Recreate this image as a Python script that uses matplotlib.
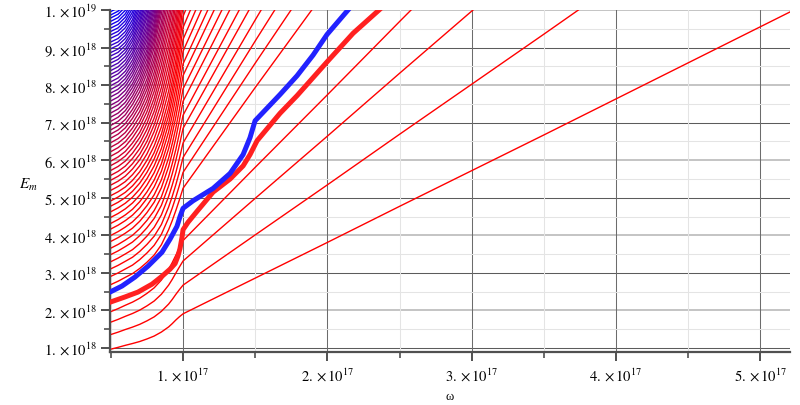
import numpy as np
import matplotlib
matplotlib.use('Agg')
import matplotlib.pyplot as plt
from matplotlib.ticker import MultipleLocator, FuncFormatter

plt.rcParams['mathtext.fontset'] = 'stix'
plt.rcParams['font.family'] = ['Liberation Serif', 'DejaVu Serif']

# omega in units of 1e17, E_m in units of 1e18
# contour shape E/E0 along omega, for contours that start at E0 on the left edge
W_LEFT = [0.5, 0.55, 0.6, 0.65, 0.7, 0.75, 0.8, 0.85, 0.9, 0.925, 0.95, 0.975, 1.0]
SHAPE_E0 = [1, 3, 5, 7, 9]
SHAPE_TABLE = [
    [1.0, 1.05, 1.105, 1.155, 1.21, 1.28, 1.36, 1.47, 1.61, 1.70, 1.80, 1.89, 1.97],
    [1.0, 1.03, 1.065, 1.10, 1.15, 1.21, 1.28, 1.38, 1.53, 1.62, 1.72, 1.83, 1.95],
    [1.0, 1.02, 1.045, 1.08, 1.125, 1.185, 1.26, 1.36, 1.50, 1.60, 1.71, 1.85, 2.0],
    [1.0, 1.015, 1.04, 1.08, 1.13, 1.20, 1.30, 1.43, 1.58, 1.66, 1.76, 1.88, 2.0],
    [1.0, 1.01, 1.03, 1.065, 1.12, 1.19, 1.27, 1.37, 1.50, 1.60, 1.71, 1.85, 2.0],
]
W_RIGHT = [1.5, 2.0, 2.5, 3.0, 3.5, 4.0, 4.5, 5.0, 5.5]
SHAPE_RIGHT = [2.95, 3.93, 4.92, 5.9, 6.88, 7.87, 8.86, 9.85, 10.84]

# E_m where each thin contour meets the left edge (2.22 and 2.49 are the thick ones)
LEVELS = [0.97, 1.36, 1.69, 1.97, 2.69, 2.91, 3.11, 3.30, 3.49, 3.66,
          3.84, 4.00, 4.17, 4.32, 4.48, 4.63, 4.78, 4.92, 5.06, 5.20, 5.34, 5.47,
          5.60, 5.73, 5.86, 5.98, 6.11, 6.23, 6.35, 6.47, 6.59, 6.70, 6.81, 6.93,
          7.04, 7.15, 7.26, 7.37, 7.47, 7.58, 7.69, 7.79, 7.89, 7.99, 8.09, 8.20,
          8.29, 8.39, 8.49, 8.59, 8.68, 8.78, 8.87, 8.97, 9.06, 9.15, 9.25, 9.34,
          9.43, 9.52, 9.61, 9.70, 9.79, 9.87, 9.96]
# red -> blue mix of the contour colours
COLOR_E = [4.5, 5, 6, 7, 8, 9, 10]
COLOR_BLUE = [0, 0.03, 0.18, 0.38, 0.6, 0.8, 1.0]

BLUE_W = [0.494, 0.577, 0.667, 0.757, 0.854, 0.91, 0.958, 0.979, 1.0, 1.069, 1.208,
          1.326, 1.416, 1.464, 1.499, 1.672, 1.79, 1.901, 1.998, 2.143]
BLUE_E = [2.49, 2.65, 2.89, 3.18, 3.55, 3.90, 4.24, 4.50, 4.72, 4.92, 5.25,
          5.65, 6.15, 6.60, 7.05, 7.75, 8.25, 8.80, 9.35, 10.0]
RED_W = [0.494, 0.598, 0.688, 0.785, 0.854, 0.91, 0.945, 0.965, 0.979, 0.993, 1.0,
         1.035, 1.097, 1.208, 1.326, 1.416, 1.464, 1.513, 1.672, 1.79, 1.901,
         1.998, 2.178, 2.358]
RED_E = [2.22, 2.36, 2.49, 2.70, 2.91, 3.10, 3.25, 3.45, 3.65, 3.95, 4.15,
         4.35, 4.64, 5.15, 5.50, 5.85, 6.15, 6.52, 7.25, 7.72, 8.20,
         8.62, 9.38, 10.0]

fig = plt.figure(figsize=(8, 4.06), dpi=100)
ax = fig.add_axes([0.1375, 0.1305, 0.85, 0.8424])

table = np.array(SHAPE_TABLE)
w_all = np.array(W_LEFT + W_RIGHT) * 1e17
for e0 in LEVELS:
    s_left = [np.interp(e0, SHAPE_E0, table[:, j]) for j in range(len(W_LEFT))]
    s = np.concatenate([s_left, SHAPE_RIGHT])
    f = np.interp(e0, COLOR_E, COLOR_BLUE)
    ax.plot(w_all, e0 * s * 1e18, color=(1 - f, 0, f), lw=1.0, zorder=2)

ax.plot(np.array(RED_W) * 1e17, np.array(RED_E) * 1e18, color='#ff2020', lw=3.6,
        solid_joinstyle='round', zorder=3)
ax.plot(np.array(BLUE_W) * 1e17, np.array(BLUE_E) * 1e18, color='#2222ff', lw=3.6,
        solid_joinstyle='round', zorder=3)

ax.set_xlim(0.494e17, 5.205e17)
ax.set_ylim(0.894e18, 1.0e19)

def sci(v, pos):
    if v <= 0:
        return ''
    e = int(np.floor(np.log10(v) + 1e-9))
    m = int(round(v / 10 ** e))
    return r'$%d.\times 10^{%d}$' % (m, e)

ax.xaxis.set_major_locator(MultipleLocator(1e17))
ax.xaxis.set_minor_locator(MultipleLocator(0.5e17))
ax.yaxis.set_major_locator(MultipleLocator(1e18))
ax.yaxis.set_minor_locator(MultipleLocator(0.5e18))
ax.xaxis.set_major_formatter(FuncFormatter(sci))
ax.yaxis.set_major_formatter(FuncFormatter(sci))

# grid: light minor lines, darker majors (every other horizontal one drawn lighter and wider)
ax.grid(which='minor', color='#e4e4e4', lw=0.75)
ax.xaxis.grid(True, which='major', color='#6c6c6c', lw=0.75)
for k in range(1, 11):
    if k % 2:
        ax.axhline(k * 1e18, color='#5c5c5c', lw=0.75, zorder=0.5)
    else:
        ax.axhline(k * 1e18, color='#c4c4c4', lw=1.4, zorder=0.5)
ax.set_axisbelow(True)

for side in ['top', 'right']:
    ax.spines[side].set_visible(False)
for side in ['left', 'bottom']:
    ax.spines[side].set_color('#505050')
    ax.spines[side].set_linewidth(1.6)
ax.tick_params(which='major', length=6.5, width=1.4, color='#505050', labelsize=10.5, pad=3)
ax.tick_params(axis='x', which='major', pad=4)
ax.tick_params(which='minor', length=4, width=1.2, color='#505050')

fig.text(450 / 800, 1 - 397 / 406, 'ω', ha='center', va='center', fontsize=9)
fig.text(28 / 800, 1 - 185 / 406, r'$E_m$', ha='center', va='center', fontsize=11)

fig.savefig('out.png', dpi=100)
